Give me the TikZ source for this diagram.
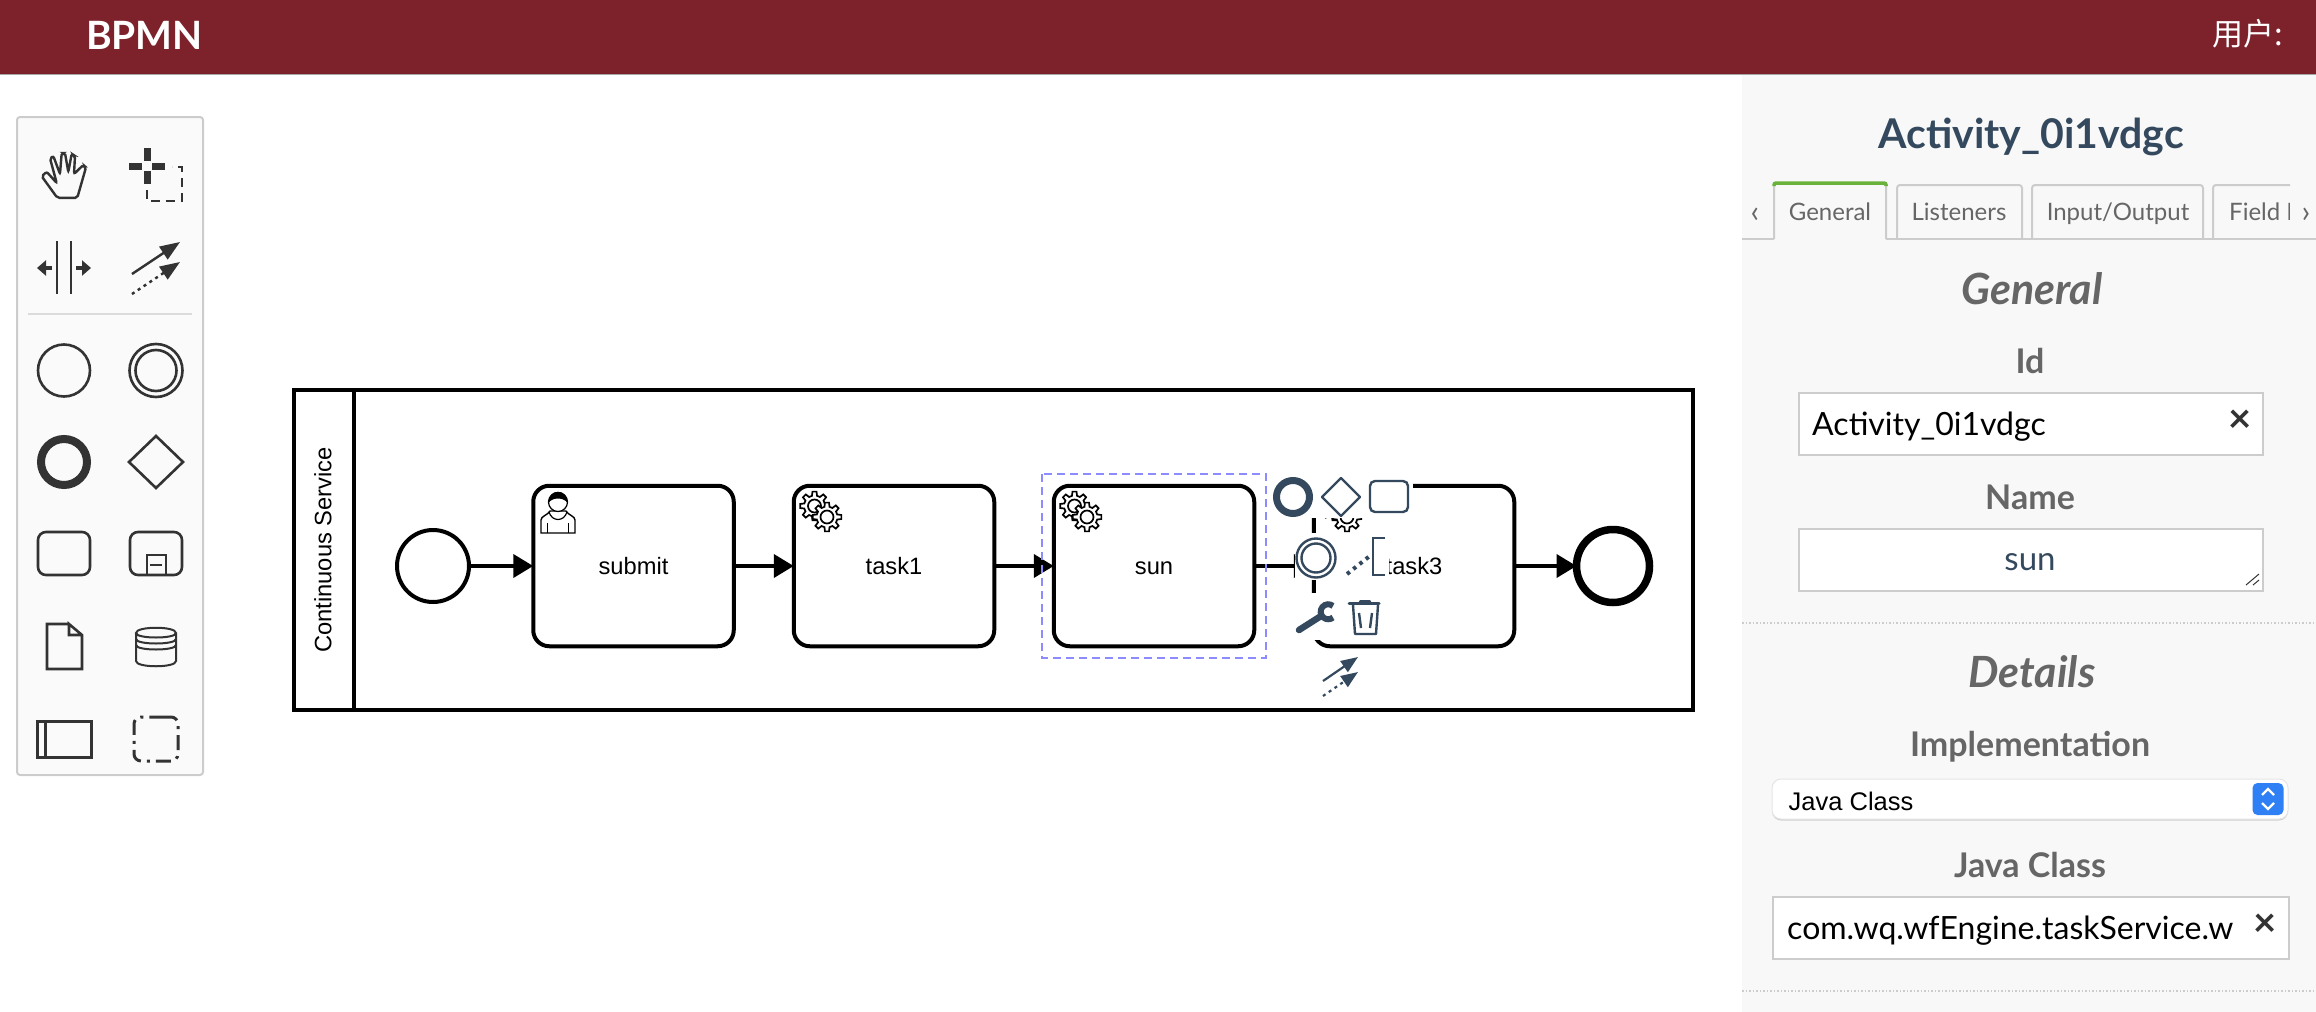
\documentclass[tikz,border=0pt]{standalone}
\usepackage{fontspec}
\setmainfont{Lato}
\newfontfamily\diagramfont{Liberation Sans}
\newfontfamily\cjkfont{Noto Sans CJK SC}
\usetikzlibrary{calc,positioning,arrows.meta,shapes.geometric}
\definecolor{headred}{HTML}{7D212B}
\definecolor{padblue}{HTML}{34495E}
\definecolor{toolgray}{HTML}{333333}
\definecolor{panelbg}{HTML}{F8F8F8}
\definecolor{boxline}{HTML}{CCCCCC}
\definecolor{labelgray}{HTML}{666666}
\definecolor{selectline}{HTML}{8C8CFF}
\definecolor{tabgreen}{HTML}{6AB23B}
\definecolor{stepblue}{HTML}{2F7FF5}
\newcommand{\fs}[1]{\fontsize{#1}{#1}\selectfont}
\tikzset{
  >={Triangle[length=20pt,width=23pt]},
  swimlane/.style={draw=black, line width=4pt},
  eventstart/.style={circle, draw=black, fill=white, line width=4pt,
    minimum size=72pt, inner sep=0pt, outer sep=0pt},
  eventend/.style={circle, draw=black, fill=white, line width=7.5pt,
    minimum size=73pt, inner sep=0pt, outer sep=0pt},
  taskbox/.style={
    rectangle,
    rounded corners=16pt,
    draw=black, fill=white, line width=4pt,
    minimum width=200.5pt,
    minimum height=160.5pt,
    text height=16.5pt, text depth=0pt,
    inner sep=0pt, outer sep=0pt,
    font=\diagramfont\fs{23.7}},
  seqflow/.style={draw=black, line width=4pt, ->},
  padpatch/.style={fill=white, draw=none},
  padline/.style={draw=padblue, line width=2.4pt},
  toolline/.style={draw=toolgray, line width=2.6pt},
  toolarrow/.style={toolgray, line width=2.4pt, -{Triangle[length=20pt,width=15pt]}},
  padarrow/.style={padblue, line width=2.2pt, -{Triangle[length=17pt,width=13pt]}},
  dotline/.style={dash pattern=on 3pt off 4pt},
  tabline/.style={draw=boxline, line width=2pt, rounded corners=3pt},
  tabtext/.style={text=labelgray, font=\fs{24}, inner sep=0pt, anchor=base},
  sectionhead/.style={text=labelgray, font=\bfseries\itshape\fs{43}, inner sep=0pt, anchor=base},
  fieldlabel/.style={text=labelgray, font=\bfseries\fs{34}, inner sep=0pt, anchor=base},
  inputbox/.style={draw=boxline, fill=white, line width=2.6pt, inner sep=0pt},
  inputtext/.style={font=\fs{32}, inner sep=0pt, anchor=base west},
  clearmark/.style={text=toolgray, font=\bfseries\fs{40}, inner sep=0pt},
  gearicon/.pic={
    \draw[line width=1.7pt, fill=white] (-14:10.5)
      \foreach \a in {0,45,...,315} {
        -- (\a-14:10.5) -- (\a-8:14.5) -- (\a+8:14.5) -- (\a+14:10.5) -- (\a+31:10.5)
      } -- cycle;
    \draw[line width=1.7pt] (0,0) circle (6.5);
  },
  usericon/.pic={
    \draw[line width=1.4pt, fill=white] (-17,31) -- (-17,18)
      .. controls (-17,14) and (-10,13) .. (-8,9) -- (8,9)
      .. controls (10,13) and (17,14) .. (17,18) -- (17,31) -- cycle;
    \draw[line width=1.2pt] (-10.5,21) -- (-10.5,31) (10.5,21) -- (10.5,31);
    \draw[line width=1.2pt] (-9,10) .. controls (-6,20) and (6,20) .. (9,10);
    \draw[line width=1.2pt, fill=white] (0,0) circle (9.5);
    \fill (-9.5,1) .. controls (-10,-14) and (10,-14) .. (9.5,1)
      .. controls (6,-5) and (-6,-5) .. (-9.5,1) -- cycle;
  },
}
\begin{document}
\begin{tikzpicture}[x=1pt,y=-1pt]
  \useasboundingbox (0,0) rectangle (2316,1012);
  % page parts
  \fill[panelbg] (1742,74) rectangle (2316,1012);
  \fill[headred] (0,0) rectangle (2316,74);
  \draw[black!35, line width=1pt] (0,74.5) -- (2316,74.5);
  \node[text=white, font=\bfseries\fs{39}, inner sep=0pt] (brand) at (144.5,35) {BPMN};
  \node[text=white, font=\cjkfont\fs{31}, inner sep=0pt, anchor=east] (userlabel) at (2283,34) {用户:};

  % tool box
  \draw[draw=boxline, fill=black!2, line width=2pt, rounded corners=3pt] (17,117) rectangle (203,775);
  \draw[toolline, rounded corners=2pt, line width=2.4pt] (57.3,197.8) -- (41.7,176.3) -- (46.7,171.8) -- (56.7,183)
    -- (50,158.3) -- (53.3,156) -- (60,174) -- (61.7,153) -- (65,153) -- (68.3,172)
    -- (71.7,153.8) -- (75,156) -- (74,174) -- (83.3,165) -- (86,167.3) -- (77.3,197.8) -- cycle;
  \draw[toolgray, line width=7pt] (129,166) -- (142,166) (152,166) -- (165,166) (147,148) -- (147,161) (147,171) -- (147,184);
  \draw[toolgray, line width=2.6pt, dash pattern=on 9pt off 6pt] (147,190) -- (147,201) -- (182,201) -- (182,167) -- (172,167);
  \draw[toolline] (57,241) -- (57,294) (71,241) -- (71,294);
  \draw[toolgray, line width=4pt, -{Triangle[length=9pt,width=15pt]}] (52,268) -- (37,268);
  \draw[toolgray, line width=4pt, -{Triangle[length=9pt,width=15pt]}] (76,268) -- (91,268);
  \draw[toolarrow] (132,274) -- (180,242);
  \draw[toolarrow, dotline] (132,294) -- (180,262);
  \draw[black!14, line width=1.5pt] (28,314) -- (192,314);
  \draw[toolline] (64,370.5) circle (26);
  \draw[toolline] (156,370.5) circle (26.5) (156,370.5) circle (20.5);
  \begin{scope}[yshift=3pt]
    \draw[toolgray, line width=8pt] (64,465) circle (23);
    \draw[toolline] (156,439) -- (183,465) -- (156,491) -- (129,465) -- cycle;
    \draw[toolline, rounded corners=8pt] (38,535) rectangle (90,578);
    \draw[toolline, rounded corners=8pt] (130,535) rectangle (182,578);
    \draw[toolline] (147,578) -- (147,558) -- (166,558) -- (166,578) (150,568) -- (162,568);
    \draw[toolline] (69,627) -- (47,627) -- (47,672) -- (82,672) -- (82,638) -- (69,627) -- (69,638) -- (82,638);
    \draw[toolline, line width=2pt] (136,636) -- (136,664) .. controls (136,671) and (176,671) .. (176,664) -- (176,636)
      .. controls (176,629) and (136,629) .. (136,636) .. controls (136,642) and (176,642) .. (176,636);
    \draw[toolline, line width=2pt] (136,642) .. controls (136,648) and (176,648) .. (176,642)
      (136,648) .. controls (136,654) and (176,654) .. (176,648);
    \draw[toolline, line width=3pt] (37,724) rectangle (91,760) (45,724) -- (45,760);
    \draw[toolline, line width=3pt, rounded corners=7pt, dash pattern=on 15pt off 6pt on 3pt off 6pt] (156,720) -- (178,720) -- (178,764) -- (134,764) -- (134,720) -- cycle;
  \end{scope}

  % pool and tasks
  \draw[swimlane] (294,390) rectangle (1693,710);
  \draw[swimlane] (354,390) -- (354,710);
  \node[rotate=90, font=\diagramfont\fs{23.7}, inner sep=0pt] (poolname) at (323,550) {Continuous Service};
  \node[eventstart] (startev) at (433,566) {};
  \node[taskbox] (submit) at (633.5,566) {submit};
  \node[taskbox, right=60pt of submit] (task1) {task1};
  \node[taskbox, right=59.5pt of task1] (sun) {sun};
  \node[taskbox, right=59.5pt of sun] (task3) {task3};
  \node[eventend] (endev) at (1613,566) {};
  \pic at ($(submit)+(-75.5,-64)$) {usericon};
  \foreach \t in {task1,sun,task3} {
    \pic at ($(\t)+(-79.5,-60)$) {gearicon};
    \pic at ($(\t)+(-67,-49)$) {gearicon};
  }
  \draw[seqflow] (startev) -- (submit);
  \draw[seqflow] (submit) -- (task1);
  \draw[seqflow] (task1) -- (sun);
  \draw[seqflow] (sun) -- (task3);
  \draw[seqflow] (task3) -- (endev);
  \draw[selectline, line width=2.5pt, dash pattern=on 8pt off 5pt] (1042,474) rectangle (1266,658);

  % context pad
  \fill[padpatch] (1270,472) rectangle (1413,518);
  \fill[padpatch] (1295,533) rectangle (1389,580);
  \fill[padpatch] (1295,593) rectangle (1388,640);
  \draw[padblue, line width=7pt] (1293,497) circle (16.5);
  \draw[padline, line join=round] (1341,478) -- (1360,497) -- (1341,516) -- (1322,497) -- cycle;
  \draw[padline, rounded corners=5pt] (1370,481) rectangle (1408,512);
  \draw[padline] (1316,558) circle (19.5) (1316,558) circle (14.5);
  \draw[padblue, line width=4pt, dash pattern=on 3.5pt off 4.5pt] (1347,574) -- (1371,555);
  \draw[padline] (1385,538) -- (1373,538) -- (1373,575) -- (1385,575);
  \draw[padblue, line width=6.5pt, line cap=round] (1299,630) -- (1321,616);
  \draw[padblue, line width=6pt] (1333,606) arc[start angle=50, end angle=310, radius=7.5pt];
  \draw[padblue, line width=3pt, line cap=round] (1349,603) -- (1379,603);
  \fill[padblue] (1358,603) -- (1360,600) -- (1370,600) -- (1372,603) -- cycle;
  \draw[padline, line join=round] (1353,605) -- (1355,634) -- (1376,634) -- (1378,605);
  \draw[padline] (1359,613) -- (1361,628) (1372,613) -- (1370,628);
  \draw[padarrow] (1323,681) -- (1358,657);
  \draw[padarrow, dotline] (1323,696) -- (1358,672);

  % properties panel
  \node[text=padblue, font=\bfseries\fs{41}, inner sep=0pt, anchor=base] (paneltitle) at (2031,148.5) {Activity\_0i1vdgc};
  \draw[draw=boxline, line width=2pt] (1742,239) -- (1774,239) (1886,239) -- (2316,239);
  \draw[tabline] (1774,239) -- (1774,183) -- (1886,183) -- (1886,239);
  \draw[draw=tabgreen, line width=3.5pt, rounded corners=2pt] (1774,186) -- (1774,183) -- (1886,183) -- (1886,186);
  \draw[tabline] (1897,239) -- (1897,185) -- (2022,185) -- (2022,239);
  \draw[tabline] (2032,239) -- (2032,185) -- (2203,185) -- (2203,239);
  \draw[tabline] (2213,239) -- (2213,185) -- (2290,185);
  \node[tabtext] (tabgeneral) at (1830,220) {General};
  \node[tabtext] (tablisten) at (1959,220) {Listeners};
  \node[tabtext] (tabinout) at (2118,220) {Input/Output};
  \begin{scope}
    \clip (2215,190) rectangle (2289,236);
    \node[tabtext, anchor=base west] (tabfield) at (2229,220) {Field Injections};
  \end{scope}
  \node[tabtext, font=\fs{31}] (tabprev) at (1755,222) {‹};
  \node[tabtext, font=\fs{31}] (tabnext) at (2306,222) {›};

  \node[sectionhead] (headgeneral) at (2032,304) {General};
  \node[fieldlabel] (idlabel) at (2030,373.5) {Id};
  \node[inputbox, minimum width=464pt, minimum height=62pt] (idbox) at (2031,424) {};
  \node[inputtext] (idvalue) at (1812,435) {Activity\_0i1vdgc};
  \node[clearmark] (idclear) at (2240,421) {×};
  \node[fieldlabel] (namelabel) at (2030,509.5) {Name};
  \node[inputbox, minimum width=464pt, minimum height=62pt] (namebox) at (2031,560) {};
  \node[text=padblue, font=\fs{33}, inner sep=0pt, anchor=base] (namevalue) at (2030,570.5) {sun};
  \draw[toolgray, line width=1pt] (2246,585) -- (2259,574) (2253,585) -- (2259,580);
  \draw[boxline, line width=1.5pt, dotted] (1742,623) -- (2316,623);

  \node[sectionhead] (headdetails) at (2032,687.5) {Details};
  \node[fieldlabel] (impllabel) at (2030,756.5) {Implementation};
  \fill[black!18, rounded corners=9pt] (1772,781) rectangle (2288,820.5);
  \node[draw=black!10, fill=white, line width=1pt, rounded corners=9pt, minimum width=516pt,
    minimum height=40pt, inner sep=0pt] (implselect) at (2030,799) {};
  \node[inputtext, font=\diagramfont\fs{25.5}] (implvalue) at (1788.5,810) {Java Class};
  \node[fill=stepblue, rounded corners=5pt, minimum width=31pt, minimum height=32pt, inner sep=0pt] (implstep) at (2268,799) {};
  \draw[white, line width=2.2pt] (2262,795) -- (2268,789) -- (2274,795) (2262,803) -- (2268,809) -- (2274,803);
  \node[fieldlabel] (classlabel) at (2030,877.5) {Java Class};
  \node[inputbox, minimum width=516pt, minimum height=62pt] (classbox) at (2031,928) {};
  \begin{scope}
    \clip (1780,900) rectangle (2232,956);
    \node[inputtext] (classvalue) at (1787,939.5) {com.wq.wfEngine.taskService.workflow};
  \end{scope}
  \node[clearmark] (classclear) at (2265,925) {×};
  \draw[boxline, line width=1.5pt, dotted] (1742,991) -- (2316,991);
\end{tikzpicture}
\end{document}
